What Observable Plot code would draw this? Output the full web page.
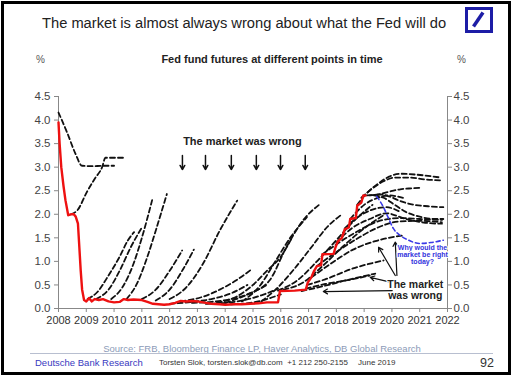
<!DOCTYPE html>
<html><head><meta charset="utf-8">
<script src="https://cdn.jsdelivr.net/npm/d3@7"></script>
<script src="https://cdn.jsdelivr.net/npm/@observablehq/plot@0.6"></script>
<style>
body{margin:0;background:#fff;font-family:"Liberation Sans",Arial,sans-serif;}
#wrap{position:relative;width:512px;height:377px;overflow:hidden;background:#fff;}
#frame{position:absolute;left:1px;top:1px;width:510px;height:374px;border:3px solid #000;box-sizing:border-box;pointer-events:none;}
.t{position:absolute;white-space:nowrap;line-height:1;}
</style></head><body>
<div id="wrap">
  <div id="chart" style="position:absolute;left:0;top:0"></div>
  <div class="t" style="left:42px;top:16px;font-size:14.7px;color:#222">The market is almost always wrong about what the Fed will do</div>
  <div style="position:absolute;left:465px;top:7px;width:28px;height:26px;border:3.5px solid #1d1da6;box-sizing:border-box;">
    <svg width="21" height="19" style="position:absolute;left:0;top:0"><line x1="5.5" y1="16.5" x2="15" y2="2.5" stroke="#1d1da6" stroke-width="3.5"/></svg>
  </div>
  <div class="t" style="left:272px;top:54px;transform:translateX(-50%);font-size:11px;font-weight:bold;color:#222">Fed fund futures at different points in time</div>
  <div class="t" style="left:36px;top:55px;font-size:10px;color:#555">%</div>
  <div class="t" style="left:457px;top:55px;font-size:10px;color:#555">%</div>
  <div class="t" style="left:262px;top:344px;transform:translateX(-50%);font-size:9.5px;color:#8c9bb8">Source: FRB, Bloomberg Finance LP, Haver Analytics, DB Global Research</div>
  <div style="position:absolute;left:30px;top:353px;width:463px;height:1px;background:#b8bfd0"></div>
  <div class="t" style="left:35px;top:358px;font-size:9.5px;color:#3838c0">Deutsche Bank Research</div>
  <div class="t" style="left:159px;top:359px;font-size:8px;color:#333">Torsten Slok, torsten.slok@db.com&nbsp; +1 212 250-2155</div>
  <div class="t" style="left:358px;top:359px;font-size:8px;color:#333">June 2019</div>
  <div class="t" style="left:480px;top:357px;font-size:12.5px;color:#333">92</div>
  <div id="frame"></div>
</div>
<script>
// ---- tick labels ----
const yearTicks = [2008,2009,2010,2011,2012,2013,2014,2015,2016,2017,2018,2019,2020,2021,2022];
const rateTicks = [0,0.5,1,1.5,2,2.5,3,3.5,4,4.5];

// ---- effective fed funds rate (red) ----
const fedFunds = [[2008.0,3.95],[2008.04,3.5],[2008.1,3.0],[2008.18,2.6],[2008.25,2.3],[2008.35,1.98],[2008.45,2.0],[2008.55,2.0],[2008.62,1.95],[2008.7,1.8],[2008.75,1.3],[2008.8,0.8],[2008.85,0.4],[2008.92,0.18],[2009.0,0.15],[2009.1,0.22],[2009.2,0.15],[2009.3,0.2],[2009.45,0.18],[2009.6,0.2],[2009.8,0.15],[2010.0,0.13],[2010.2,0.14],[2010.35,0.2],[2010.5,0.18],[2010.7,0.19],[2011.0,0.18],[2011.2,0.14],[2011.4,0.1],[2011.6,0.09],[2011.8,0.08],[2012.0,0.09],[2012.2,0.12],[2012.4,0.16],[2012.6,0.15],[2012.8,0.16],[2013.0,0.15],[2013.2,0.13],[2013.5,0.1],[2013.8,0.09],[2014.0,0.08],[2014.3,0.09],[2014.6,0.09],[2014.9,0.1],[2015.2,0.11],[2015.5,0.13],[2015.9,0.13],[2015.97,0.37],[2016.5,0.38],[2016.9,0.4],[2016.97,0.55],[2017.1,0.66],[2017.2,0.8],[2017.3,0.9],[2017.45,0.92],[2017.5,1.15],[2017.9,1.16],[2017.97,1.3],[2018.05,1.42],[2018.2,1.5],[2018.3,1.68],[2018.45,1.72],[2018.5,1.9],[2018.7,1.92],[2018.75,2.18],[2018.9,2.25],[2018.97,2.4],[2019.05,2.4]];

// ---- fed fund futures curves at different points in time (black dashed) ----
const fut01 = [[2008.0,4.16],[2008.3,3.75],[2008.6,3.3],[2008.85,3.03],[2009.2,3.02],[2009.6,3.03],[2010.0,3.03]];
const fut02 = [[2008.45,2.0],[2008.7,2.1],[2009.0,2.45],[2009.3,2.75],[2009.57,3.0],[2009.69,3.2],[2010.0,3.2],[2010.42,3.2]];
const fut03 = [[2009.05,0.2],[2009.4,0.35],[2009.8,0.7],[2010.2,1.1],[2010.5,1.45],[2010.72,1.62]];
const fut04 = [[2009.35,0.2],[2009.8,0.4],[2010.2,0.8],[2010.6,1.3],[2011.0,1.72]];
const fut05 = [[2009.9,0.2],[2010.3,0.45],[2010.7,0.95],[2011.0,1.5],[2011.37,2.3]];
const fut06 = [[2010.45,0.2],[2010.8,0.5],[2011.2,1.1],[2011.55,1.75],[2011.9,2.43]];
const fut07 = [[2011.0,0.2],[2011.5,0.4],[2012.0,0.8],[2012.45,1.23]];
const fut08 = [[2011.5,0.17],[2012.0,0.4],[2012.5,0.85],[2012.87,1.25]];
const fut09 = [[2012.0,0.2],[2012.6,0.45],[2013.2,0.95],[2013.8,1.65],[2014.43,2.29]];
const fut10 = [[2012.4,0.15],[2013.2,0.25],[2013.8,0.4],[2014.4,0.6],[2014.9,0.81]];
const fut11 = [[2012.0,0.1],[2012.8,0.14],[2013.5,0.2],[2014.2,0.32],[2014.8,0.5]];
const fut12 = [[2012.8,0.12],[2013.5,0.14],[2014.2,0.2],[2014.9,0.32],[2015.5,0.5]];
const fut13 = [[2013.3,0.1],[2014.0,0.12],[2014.7,0.18],[2015.3,0.28],[2015.9,0.42]];
const fut14 = [[2014.2,0.09],[2014.9,0.12],[2015.5,0.2],[2016.0,0.3]];
const fut15 = [[2013.7,0.12],[2014.4,0.25],[2015.0,0.5],[2015.5,0.8],[2016.0,1.1],[2016.4,1.5]];
const fut16 = [[2014.0,0.12],[2014.8,0.3],[2015.6,0.6],[2016.2,1.3],[2016.8,1.87],[2017.42,2.22]];
const fut17 = [[2014.6,0.15],[2015.27,0.5],[2015.75,0.95],[2016.35,1.51],[2016.94,1.94]];
const fut18 = [[2015.3,0.15],[2015.9,0.45],[2016.5,0.85],[2017.1,1.3],[2017.67,1.73],[2018.2,2.0]];
const fut19 = [[2015.9,0.38],[2016.6,0.6],[2017.3,1.0],[2018.0,1.45],[2018.7,1.9],[2019.3,2.2]];
const fut20 = [[2016.1,0.4],[2016.8,0.55],[2017.5,0.9],[2018.3,1.35],[2019.0,1.7],[2019.7,1.98]];
const fut21 = [[2016.75,0.37],[2017.5,0.47],[2018.5,0.62],[2019.4,0.74]];
const fut22 = [[2016.9,0.42],[2017.6,0.52],[2018.4,0.6],[2019.2,0.7]];
const fut23 = [[2016.95,0.5],[2017.6,0.62],[2018.6,0.85],[2019.7,1.02]];
const fut24 = [[2017.1,0.66],[2017.8,0.95],[2018.6,1.25],[2019.4,1.43],[2020.4,1.55]];
const fut25 = [[2017.3,0.9],[2018.0,1.2],[2018.8,1.5],[2019.5,1.72],[2020.3,1.85],[2021.0,1.86],[2021.8,1.83]];
const fut26 = [[2017.5,1.15],[2018.1,1.4],[2018.8,1.65],[2019.5,1.85],[2020.3,1.92],[2021.0,1.9],[2021.8,1.88]];
const fut27 = [[2018.0,1.4],[2018.6,1.72],[2019.2,1.9],[2019.8,2.02],[2020.5,1.9],[2021.2,1.82],[2021.8,1.8]];
const fut28 = [[2018.3,1.7],[2018.8,1.95],[2019.3,2.1],[2019.8,2.15],[2020.3,2.05]];
const fut29 = [[2018.75,2.2],[2019.1,2.45],[2019.5,2.65],[2019.9,2.8],[2020.3,2.86],[2020.9,2.84],[2021.75,2.78]];
const fut30 = [[2018.9,2.35],[2019.3,2.55],[2019.7,2.7],[2020.1,2.78],[2020.6,2.78],[2021.2,2.74],[2021.8,2.72]];
const fut31 = [[2019.1,2.4],[2019.5,2.42],[2019.9,2.48],[2020.3,2.53],[2020.7,2.55],[2021.0,2.56]];
const fut32 = [[2019.2,2.4],[2019.6,2.42],[2019.9,2.38],[2020.3,2.28],[2020.8,2.2],[2021.3,2.17],[2021.85,2.15]];
const fut33 = [[2019.35,2.4],[2019.7,2.35],[2020.1,2.2],[2020.5,2.05],[2021.0,1.95],[2021.5,1.9],[2021.85,1.9]];
const fut34 = [[2018.5,1.9],[2019.0,2.2],[2019.5,2.35],[2019.9,2.4],[2020.4,2.35]];

// ---- current market pricing (blue dashed) ----
const todayCurve = [[2019.45,2.38],[2019.65,2.2],[2019.85,1.95],[2020.05,1.7],[2020.3,1.55],[2020.6,1.45],[2021.0,1.38],[2021.4,1.4],[2021.85,1.45]];

// ---- annotations ----
const topArrowYears = [2012.46,2013.29,2014.22,2015.12,2015.99,2016.88];
const lowArrowFrom = [[2020.01,0.38],[2019.94,0.56],[2020.12,0.7],[2020.18,0.7]];
const lowArrowTo   = [[2017.53,0.36],[2019.22,0.66],[2019.52,1.3],[2020.12,1.41]];

const futures = [fut01,fut02,fut03,fut04,fut05,fut06,fut07,fut08,fut09,fut10,fut11,fut12,fut13,fut14,fut15,fut16,fut17,fut18,fut19,fut20,fut21,fut22,fut23,fut24,fut25,fut26,fut27,fut28,fut29,fut30,fut31,fut32,fut33,fut34];
const futRows = [];
futures.forEach((c, i) => c.forEach(([x, y]) => futRows.push({id: i, x, y})));
const pt = ([x, y]) => ({x, y});
const lowArrows = lowArrowFrom.map((f, i) => ({x1: f[0], y1: f[1], x2: lowArrowTo[i][0], y2: lowArrowTo[i][1]}));

const chart = Plot.plot({
  width: 512, height: 377,
  marginTop: 96, marginBottom: 69, marginLeft: 58, marginRight: 65,
  x: {domain: [2008, 2022]},
  y: {domain: [0, 4.5]},
  style: {fontFamily: "Liberation Sans, Arial, sans-serif", background: "transparent", overflow: "visible"},
  marks: [
    Plot.ruleX([2008, 2022], {stroke: "#888"}),
    Plot.ruleY([0], {stroke: "#888"}),
    Plot.axisY({anchor: "left", ticks: rateTicks, tickFormat: d => d.toFixed(1), tickSize: 4, tickPadding: 4, fontSize: 11.5, fill: "#444", stroke: "#888", label: null}),
    Plot.axisY({anchor: "right", ticks: rateTicks, tickFormat: d => d.toFixed(1), tickSize: 4, tickPadding: 2, fontSize: 11.5, fill: "#444", stroke: "#888", label: null}),
    Plot.axisX({ticks: yearTicks, tickFormat: d => String(d), tickSize: 4, tickPadding: 4, fontSize: 11, fill: "#333", stroke: "#888", label: null}),
    Plot.line(futRows, {x: "x", y: "y", z: "id", stroke: "#111", strokeWidth: 1.8, strokeDasharray: "5,3", curve: "monotone-x"}),
    Plot.line(fedFunds.map(pt), {x: "x", y: "y", stroke: "#ee1111", strokeWidth: 2.4}),
    Plot.line(todayCurve.map(pt), {x: "x", y: "y", stroke: "#3a3ae6", strokeWidth: 1.6, strokeDasharray: "4,3", curve: "monotone-x"}),
    Plot.arrow(topArrowYears, {x1: d => d, x2: d => d, y1: d => 3.25, y2: d => 2.95, stroke: "#111", strokeWidth: 1.5, headLength: 5}),
    Plot.arrow(lowArrows, {x1: "x1", y1: "y1", x2: "x2", y2: "y2", stroke: "#111", strokeWidth: 1.2, headLength: 6}),
    Plot.text([{x: 2014.62, y: 3.55, t: "The market was wrong"}], {x: "x", y: "y", text: "t", fontWeight: "bold", fontSize: 11, fill: "#222"}),
    Plot.text([{x: 2020.84, y: 0.395, t: "The market\nwas wrong"}], {x: "x", y: "y", text: "t", fontWeight: "bold", fontSize: 10.5, lineHeight: 1.05, fill: "#222", stroke: "white", strokeWidth: 2}),
    Plot.text([{x: 2021.1, y: 1.14, t: "Why would the\nmarket be right\ntoday?"}], {x: "x", y: "y", text: "t", fontWeight: "bold", fontSize: 7, lineHeight: 0.95, fill: "#3333dd", stroke: "white", strokeWidth: 2})
  ]
});
document.getElementById("chart").appendChild(chart);
</script>
</body></html>
